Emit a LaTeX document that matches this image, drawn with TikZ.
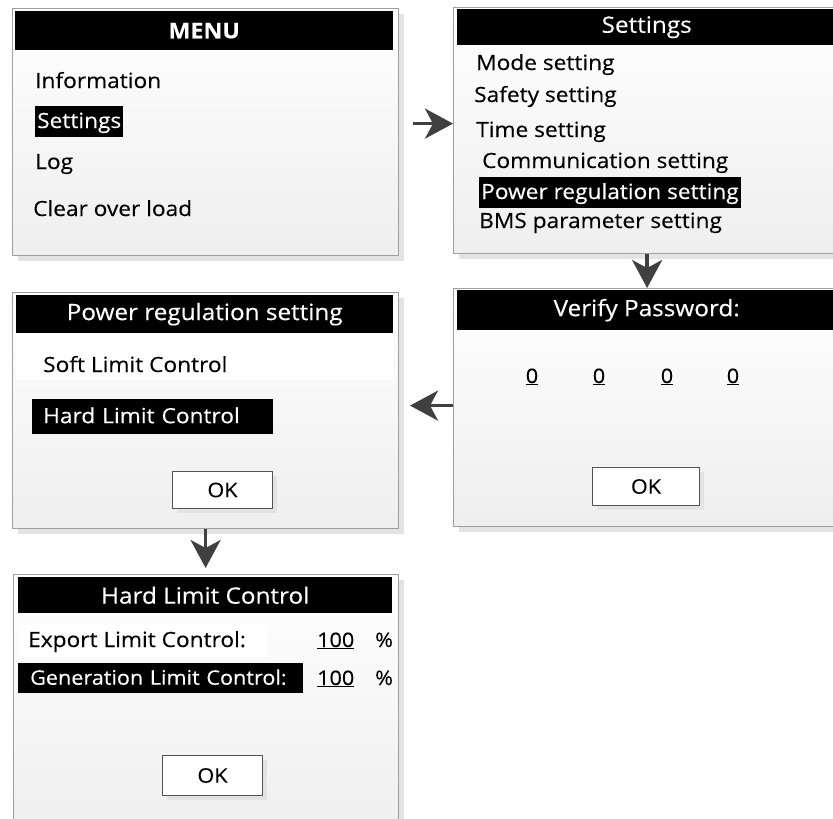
\documentclass[tikz,border=0pt]{standalone}
\usepackage{fontspec}
\setmainfont{Open Sans}[FakeStretch=1.08,FakeBold=0.3]
\usetikzlibrary{shadows,arrows.meta}
\begin{document}
\begin{tikzpicture}[x=1pt,y=-1pt,
  panel/.style={draw=gray!75, line width=1.2pt, rectangle, inner sep=0pt,
    top color=white, bottom color=gray!13, anchor=north west,
    drop shadow={shadow xshift=5pt, shadow yshift=-5pt, fill=gray!22, opacity=1}},
  header/.style={fill=black, text=white, font=\fontsize{22.5}{22.5}\selectfont,
    inner sep=0pt, anchor=north west},
  item/.style={anchor=base west, inner sep=0pt, font=\fontsize{21}{21}\selectfont},
  hl/.style={fill=black, text=white, anchor=base west, inner xsep=2pt, inner ysep=4pt,
    text height=18pt, text depth=5pt, font=\fontsize{21}{21}\selectfont},
  hlbox/.style={fill=black, text=white, anchor=north west, align=left,
    text height=18pt, text depth=5pt, font=\fontsize{21}{21}\selectfont},
  val/.style={anchor=base west, inner sep=0pt, font=\fontsize{20}{20}\selectfont},
  zero/.style={anchor=base, inner sep=0pt, font=\fontsize{20}{20}\selectfont},
  okbtn/.style={draw=gray!65!black, line width=1pt, fill=white, anchor=north west,
    font=\fontsize{20}{20}\selectfont, inner sep=0pt,
    drop shadow={shadow xshift=4pt, shadow yshift=-4pt, fill=gray!22, opacity=1}},
  arr/.style={draw=black!75, line width=3.5pt,
    -{Stealth[length=28pt,width=30pt,inset=8pt]}}]
\useasboundingbox (0,0) rectangle (833,819);
\clip (0,0) rectangle (833,819);

% ---------- MENU ----------
\node[panel, minimum width=386pt, minimum height=247pt] (menu) at (12,8) {};
\node[header, minimum width=378pt, minimum height=39pt, font=\fontsize{21.5}{21.5}\selectfont\bfseries] (menuh) at (15,11) {MENU};
\node[item] (info) at (35,88) {Information};
\node[hl] (mset) at (35,128) {Settings};
\node[item] (log) at (35,169) {Log};
\node[item] (clr) at (33,216) {Clear over load};

% ---------- Settings ----------
\node[panel, minimum width=387pt, minimum height=246pt] (settings) at (453,7) {};
\node[header, minimum width=379pt, minimum height=36pt] (setth) at (457,9) {Settings};
\node[item] (mode) at (476,70) {Mode setting};
\node[item] (safe) at (474,102) {Safety setting};
\node[item] (time) at (476,137) {Time setting};
\node[item] (comm) at (482,168) {Communication setting};
\node[hl] (powr) at (479,199) {Power regulation setting};
\node[item] (bms) at (479,228) {BMS parameter setting};

% ---------- Verify Password ----------
\node[panel, minimum width=387pt, minimum height=238pt] (verify) at (453,288) {};
\node[header, minimum width=379pt, minimum height=40pt] (verh) at (457,290) {Verify Password:};
\node[zero] (z1) at (532,383) {\underline{0}};
\node[zero] (z2) at (599,383) {\underline{0}};
\node[zero] (z3) at (667,383) {\underline{0}};
\node[zero] (z4) at (733,383) {\underline{0}};
\node[okbtn, minimum width=107pt, minimum height=38pt] (vok) at (592,467) {OK};

% ---------- Power regulation setting ----------
\node[panel, minimum width=386pt, minimum height=236pt] (pwr) at (12,292) {};
\node[header, minimum width=377pt, minimum height=38pt] (pwrh) at (16,295) {Power regulation setting};
\fill[white] (16,334) rectangle (393,380);
\node[item] (soft) at (43,372) {Soft Limit Control};
\node[hlbox, text width=219pt, inner xsep=11pt, minimum height=35pt] (hardsel) at (32,399) {Hard Limit Control};
\node[okbtn, minimum width=100pt, minimum height=37pt] (pok) at (172,471) {OK};

% ---------- Hard Limit Control ----------
\node[panel, minimum width=385pt, minimum height=260pt] (hard) at (13,574) {};
\node[header, minimum width=374pt, minimum height=36pt] (hardh) at (18,577) {Hard Limit Control};
\fill[white] (20,625) rectangle (267,657);
\node[item] (exp) at (28,647) {Export Limit Control:};
\node[val] (ev) at (317,647) {\underline{100}};
\node[val] (ep) at (375,647) {\%};
\node[hlbox, text width=261pt, inner xsep=12pt, minimum height=30pt, font=\fontsize{20}{20}\selectfont] (gen) at (18,663) {\mbox{Generation Limit Control:}};
\node[val] (gv) at (317,685) {\underline{100}};
\node[val] (gp) at (375,685) {\%};
\node[okbtn, minimum width=100pt, minimum height=40pt] (hok) at (162,755) {OK};

% ---------- arrows ----------
\draw[arr] ([yshift=7pt]settings.west) ++(-40,0) -- ([yshift=7pt]settings.west);
\draw[arr] (settings.south) -- (verify.north);
\draw[arr] ([yshift=2pt]verify.west) -- ++(-43,0);
\draw[arr, shorten >=6pt] (pwr.south) -- (pwr.south |- hard.north);
\end{tikzpicture}
\end{document}
